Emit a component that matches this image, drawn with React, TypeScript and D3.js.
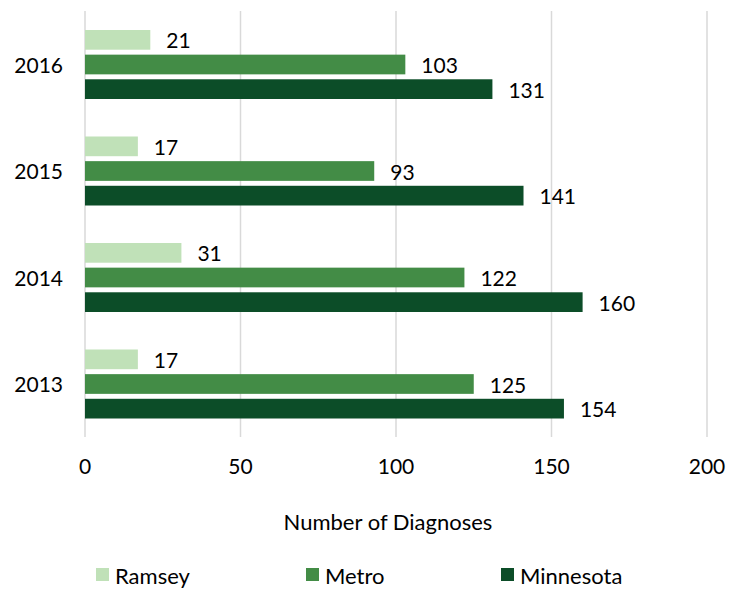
import { useEffect, useRef } from 'react';
import * as d3 from 'd3';

const years = ['2016', '2015', '2014', '2013'];
const seriesNames = ['Ramsey', 'Metro', 'Minnesota'];
const ramsey = [21, 17, 31, 17];
const metro = [103, 93, 122, 125];
const minnesota = [131, 141, 160, 154];
const xTicks = [0, 50, 100, 150, 200];
const colors = ['#c0e1b8', '#438c46', '#0c4d28'];

const App = () => {
    const ref = useRef(null);

    useEffect(() => {
        const svg = d3.select(ref.current);
        svg.selectAll('*').remove();
        const font = 'Lato, "Open Sans", sans-serif';
        const values = [ramsey, metro, minnesota];

        const x = d3.scaleLinear().domain([0, 200]).range([85, 707]);
        const y = d3.scaleBand().domain(years).range([11, 437]);
        const inner = d3.scaleBand().domain(seriesNames).range([19, 88]).paddingInner(0.2);

        // gridlines
        svg.append('g')
            .selectAll('line').data(xTicks).enter().append('line')
            .attr('x1', d => x(d)).attr('x2', d => x(d))
            .attr('y1', 11).attr('y2', 437)
            .attr('stroke', '#d9d9d9').attr('stroke-width', 1.5);

        // tick labels
        svg.append('g')
            .selectAll('text').data(xTicks).enter().append('text')
            .attr('x', d => x(d)).attr('y', 465)
            .attr('text-anchor', 'middle').attr('dominant-baseline', 'central')
            .attr('font-family', font).attr('font-size', 21).attr('fill', '#000')
            .text(d => d);

        svg.append('g')
            .selectAll('text').data(years).enter().append('text')
            .attr('x', 63).attr('y', d => y(d) + y.bandwidth() / 2)
            .attr('text-anchor', 'end').attr('dominant-baseline', 'central')
            .attr('font-family', font).attr('font-size', 21).attr('fill', '#000')
            .text(d => d);

        // bars
        seriesNames.forEach((s, si) => {
            const g = svg.append('g');
            g.selectAll('rect').data(years).enter().append('rect')
                .attr('x', x(0))
                .attr('y', d => y(d) + inner(s))
                .attr('width', (d, i) => x(values[si][i]) - x(0))
                .attr('height', inner.bandwidth())
                .attr('fill', colors[si]);
            g.selectAll('text').data(years).enter().append('text')
                .attr('x', (d, i) => x(values[si][i]) + 16)
                .attr('y', d => y(d) + inner(s) + inner.bandwidth() / 2)
                .attr('dominant-baseline', 'central')
                .attr('font-family', font).attr('font-size', 21).attr('fill', '#000')
                .text((d, i) => values[si][i]);
        });

        svg.append('text')
            .attr('x', 388).attr('y', 521)
            .attr('text-anchor', 'middle').attr('dominant-baseline', 'central')
            .attr('font-family', font).attr('font-size', 22).attr('fill', '#000')
            .text('Number of Diagnoses');

        // legend
        const legendX = [96, 306, 501];
        const legend = svg.append('g')
            .selectAll('g').data(seriesNames).enter().append('g')
            .attr('transform', (d, i) => `translate(${legendX[i]},568)`);
        legend.append('rect')
            .attr('width', 13).attr('height', 13)
            .attr('fill', (d, i) => colors[i]);
        legend.append('text')
            .attr('x', 19).attr('y', 7)
            .attr('dominant-baseline', 'central')
            .attr('font-family', font).attr('font-size', 22).attr('fill', '#000')
            .text(d => d);
    }, []);

    return (
        <svg ref={ref} width={741} height={589}
            style={{ position: 'absolute', left: 0, top: 0, background: '#fff' }} />
    );
};

export default App;
